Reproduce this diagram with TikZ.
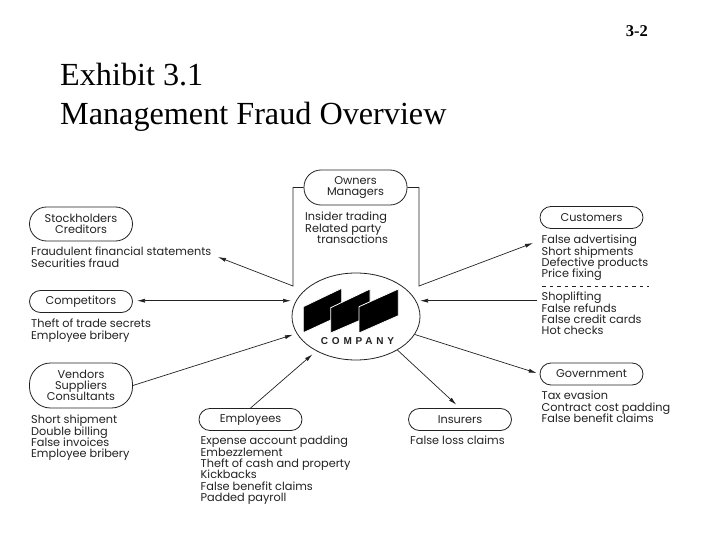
\documentclass[tikz,border=0pt]{standalone}
\usepackage{fontspec}
\usetikzlibrary{shapes.geometric,arrows.meta}
\setmainfont{Liberation Serif}
\newfontfamily\avant{Poppins}
\newfontfamily\logofont[LetterSpace=38]{Liberation Sans}
\definecolor{ink}{HTML}{222222}
\newcommand{\tightlines}{\lineskiplimit -30pt\relax}
\tikzset{
  party/.style={draw=ink,line width=0.8pt,rounded corners=11pt,minimum width=103pt,inner sep=0pt,align=center,text=ink,font=\avant\fontsize{11.3}{11.2}\selectfont\tightlines},
  fraudlist/.style={anchor=north west,inner sep=0pt,align=left,text=ink,font=\avant\fontsize{11.3}{11.35}\selectfont\tightlines},
  link/.style={draw=ink,line width=0.7pt},
  tip/.style={-{Latex[length=8pt,width=4pt]}},
  logo/.style={fill=black,draw=white,line width=0.8pt}
}
\begin{document}
\begin{tikzpicture}[x=1pt,y=-1pt]
\useasboundingbox (0,0) rectangle (720,540);
\node[inner sep=0pt,anchor=east,font=\bfseries\fontsize{16.5}{18}\selectfont] (page) at (648,31) {3-2};
\node[inner sep=0pt,anchor=north west,align=left,font=\fontsize{32.2}{38.5}\selectfont] (title) at (60,63) {Exhibit 3.1\\Management Fraud Overview};

\node[party,minimum height=35pt,rounded corners=17pt] (own) at (355.5,187.5) {Owners\\Managers};
\node[party,minimum height=34pt,rounded corners=17pt] (stock) at (81,224) {Stockholders\\Creditors};
\node[party,minimum height=22pt] (comp) at (81,301.5) {Competitors};
\node[party,minimum height=45pt,rounded corners=21pt] (vend) at (81,385.5) {Vendors\\Suppliers\\Consultants};
\node[party,minimum height=22pt] (emp) at (250.5,419.5) {Employees};
\node[party,minimum height=22pt] (ins) at (460,419.5) {Insurers};
\node[party,minimum height=22pt] (gov) at (591.5,374) {Government};
\node[party,minimum height=22pt] (cust) at (591.5,217.5) {Customers};

\node[fraudlist] (ownl) at (305,212) {Insider trading\\Related party\\\hspace*{12pt}transactions};
\node[fraudlist] (stockl) at (31,247) {Fraudulent financial statements\\Securities fraud};
\node[fraudlist] (compl) at (31,319) {Theft of trade secrets\\Employee bribery};
\node[fraudlist] (vendl) at (31,415) {Short shipment\\Double billing\\False invoices\\Employee bribery};
\node[fraudlist] (empl) at (200.5,436) {Expense account padding\\Embezzlement\\Theft of cash and property\\Kickbacks\\False benefit claims\\Padded payroll};
\node[fraudlist] (insl) at (410,436) {False loss claims};
\node[fraudlist] (govl) at (541.5,391) {Tax evasion\\Contract cost padding\\False benefit claims};
\node[fraudlist] (custa) at (541.5,235) {False advertising\\Short shipments\\Defective products\\Price fixing};
\node[fraudlist] (custb) at (541.5,292) {Shoplifting\\False refunds\\False credit cards\\Hot checks};

\node[draw=ink,line width=0.8pt,ellipse,minimum width=128pt,minimum height=87pt,inner sep=0pt] (co) at (356,316.5) {};
\filldraw[logo] (303.3,306.7) -- (341.7,288.3) -- (341.7,315) -- (303.3,332.7) -- cycle;
\filldraw[logo] (330.7,307.7) -- (370,289) -- (370,316) -- (330.7,333) -- cycle;
\filldraw[logo] (359,306.7) -- (398.3,289) -- (398.3,315.7) -- (359,333) -- cycle;
\node[inner sep=0pt,text=ink,font=\logofont\bfseries\fontsize{10}{11}\selectfont] (colabel) at (357.5,341) {COMPANY};

\coordinate (ownla) at (293,187.5);
\coordinate (ownlb) at (293,286);
\coordinate (stocktip) at (218,257);
\coordinate (ownra) at (419,187.5);
\coordinate (ownrb) at (419,286);
\coordinate (custtip) at (533,243);
\coordinate (shopend) at (537,300.7);
\coordinate (comptip) at (291,300.7);
\coordinate (comptail) at (137,300.7);
\coordinate (shoptip) at (420,300.7);
\coordinate (dasha) at (542,286);
\coordinate (dashb) at (649,286);

\draw[link,tip] (own.west) -- (ownla) -- (ownlb) -- (stocktip);
\draw[link,tip] (own.east) -- (ownra) -- (ownrb) -- (custtip);
\draw[link,{Latex[length=8pt,width=4pt]}-{Latex[length=8pt,width=4pt]}] (comptail) -- (comptip);
\draw[link,tip] (shopend) -- (shoptip);
\draw[link,tip,shorten >=4pt] (vend.east) -- (co.196.8);
\draw[link,tip,shorten >=5pt] (emp.north) -- (co.221.5);
\draw[link,tip,shorten >=5pt] (co.-39.7) -- (ins.north);
\draw[link,tip,shorten >=3pt] (co.-17) -- (gov.west);
\draw[ink,line width=0.6pt,dash pattern=on 3.5pt off 4pt] (dasha) -- (dashb);
\end{tikzpicture}
\end{document}
